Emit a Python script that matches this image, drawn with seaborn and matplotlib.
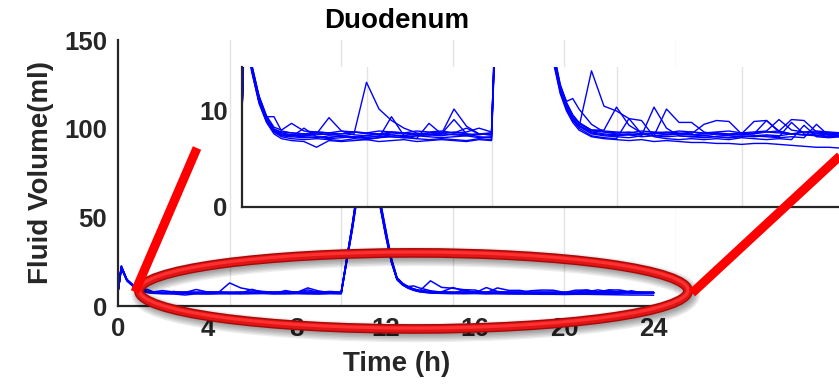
import numpy as np
import pandas as pd
import matplotlib
matplotlib.use("Agg")
import matplotlib.pyplot as plt
import seaborn as sns
from matplotlib.patches import Ellipse
from matplotlib.lines import Line2D

sns.set_style("white")
plt.rcParams["font.family"] = ["Liberation Sans", "DejaVu Sans"]
plt.rcParams["font.weight"] = "bold"

# ---------------- data (hours, ml) ----------------
time_h = [0, 0.15, 0.4, 0.7, 1.0, 1.3, 1.6, 2.0,
          2.5, 3.0, 3.5, 4.0, 4.5, 5.0, 5.5, 6.0, 6.5, 7.0, 7.5, 8.0, 8.5, 9.0, 9.5, 10.0,
          10.5, 11.0, 11.5, 12.0, 12.25, 12.5, 12.75, 13.0, 13.25, 13.5,
          14.0, 14.5, 15.0, 15.5, 16.0, 16.5, 17.0, 17.5, 18.0, 18.5, 19.0, 19.5, 20.0,
          20.5, 21.0, 21.5, 22.0, 22.5, 23.0, 23.5, 24.0]

subj1 = [8.0, 21.5, 14.4, 11.0, 9.0, 7.9, 7.5, 7.4,
         7.3, 7.2, 7.4, 7.3, 7.2, 7.4, 7.3, 7.5, 7.3, 7.4, 7.5, 7.6, 10.2, 8.4, 7.6, 7.5,
         44, 86, 73, 40, 25, 15.2, 12.1, 10.4, 9.2, 8.4,
         7.7, 7.5, 7.4, 7.5, 7.3, 7.4, 10.2, 8.8, 8.8, 7.8, 7.5, 7.4, 7.3, 7.4, 7.5, 7.4, 7.6, 7.5, 7.4, 7.5, 7.4]
subj2 = [8.1, 22.3, 14.8, 11.4, 9.3, 8.1, 7.7, 7.5,
         7.5, 7.6, 9.3, 7.9, 7.5, 7.4, 7.6, 7.5, 7.4, 7.6, 7.5, 7.4, 7.6, 7.5, 7.6, 7.5,
         45, 88, 75, 42, 26, 15.8, 12.6, 11.0, 11.3, 10.2,
         8.6, 7.8, 7.6, 7.5, 7.6, 7.4, 7.5, 7.6, 7.5, 7.4, 7.6, 7.5, 7.5, 7.6, 9.0, 7.8, 7.6, 7.5, 7.6, 7.5, 7.6]
subj3 = [7.9, 21.8, 14.6, 11.5, 9.4, 9.4, 7.9, 7.7,
         7.6, 7.7, 7.5, 7.6, 7.8, 7.6, 7.5, 7.7, 7.6, 7.5, 7.7, 7.6, 7.8, 7.6, 7.5, 7.7,
         46, 89, 74, 41, 26, 15.6, 12.5, 10.7, 9.5, 8.7,
         8.0, 8.0, 10.4, 8.5, 7.7, 7.6, 7.7, 7.6, 7.8, 7.6, 7.7, 7.6, 7.7, 7.6, 7.8, 7.7, 7.6, 7.8, 7.7, 7.6, 7.7]
subj4 = [8.0, 22.0, 14.5, 11.2, 9.1, 8.0, 7.6, 7.5,
         7.4, 7.5, 7.6, 7.4, 7.6, 13.0, 10.2, 9.0, 8.2, 7.7, 7.5, 7.6, 7.5, 7.4, 7.6, 7.5,
         45, 87, 74, 41, 25.5, 15.4, 12.3, 10.5, 9.3, 8.5,
         7.8, 7.6, 7.5, 7.6, 7.5, 7.7, 7.5, 7.6, 7.5, 7.6, 7.7, 7.5, 7.6, 8.9, 9.0, 7.9, 7.6, 7.5, 7.6, 7.7, 7.6]
subj5 = [8.2, 22.6, 15.0, 11.6, 9.5, 8.3, 8.0, 8.7,
         7.9, 7.8, 7.7, 7.9, 7.8, 7.7, 7.9, 7.8, 7.7, 7.9, 7.8, 7.9, 7.7, 7.8, 8.2, 7.8,
         46, 90, 76, 43, 27, 16.0, 12.8, 10.9, 9.6, 8.8,
         8.0, 7.9, 7.8, 7.7, 7.9, 7.8, 7.7, 7.9, 7.8, 7.7, 7.8, 7.9, 7.7, 7.8, 7.9, 9.1, 8.0, 7.8, 7.9, 7.8, 7.7]
subj6 = [7.8, 21.2, 14.2, 10.9, 8.9, 7.8, 7.4, 7.3,
         8.2, 7.3, 7.2, 7.4, 7.3, 7.2, 7.4, 7.3, 7.2, 7.4, 7.3, 7.2, 7.3, 7.4, 7.2, 7.3,
         44, 85, 72, 40, 25, 15.0, 12.0, 10.3, 9.1, 8.3,
         14.2, 10.5, 10.0, 9.2, 7.6, 7.4, 7.3, 7.4, 7.3, 7.4, 7.3, 7.2, 7.4, 7.3, 7.4, 7.3, 8.8, 7.6, 7.4, 7.3, 7.4]
subj7 = [8.0, 21.9, 14.5, 11.1, 9.0, 7.8, 7.3, 7.1,
         7.0, 7.1, 7.0, 6.9, 7.1, 7.0, 7.2, 9.4, 7.4, 7.1, 7.0, 7.1, 7.0, 6.9, 7.1, 7.0,
         44, 86, 73, 40, 25, 15.1, 12.0, 10.2, 9.0, 8.2,
         7.4, 7.2, 7.1, 9.2, 9.0, 7.3, 7.1, 7.0, 7.1, 7.0, 7.1, 7.0, 7.2, 7.1, 7.0, 7.1, 7.0, 8.5, 7.3, 7.2, 7.3]
subj8 = [7.9, 21.4, 14.3, 10.8, 8.8, 7.6, 7.1, 6.9,
         6.8, 6.2, 6.9, 6.8, 6.9, 7.0, 6.8, 6.9, 7.0, 6.8, 6.9, 7.0, 6.9, 6.8, 7.0, 6.9,
         43, 84, 72, 39, 24.5, 14.8, 11.8, 10.0, 8.8, 8.0,
         7.3, 7.1, 7.0, 6.9, 7.0, 6.8, 6.9, 6.8, 6.7, 6.7, 6.6, 6.6, 6.5, 6.6, 6.6, 6.5, 6.4, 6.3, 6.2, 6.2, 6.1]
subj9 = [8.1, 22.1, 14.7, 11.3, 9.2, 8.0, 7.5, 7.3,
         7.2, 7.3, 7.1, 7.2, 7.3, 7.1, 7.2, 7.3, 7.2, 7.1, 8.7, 7.6, 9.1, 7.6, 7.3, 7.2,
         45, 87, 74, 41, 25.5, 15.3, 12.2, 10.4, 9.2, 8.4,
         7.6, 7.4, 7.3, 7.2, 7.4, 10.4, 8.2, 7.4, 7.3, 7.2, 7.3, 7.2, 7.3, 7.4, 7.3, 7.2, 7.3, 7.2, 8.6, 7.4, 7.3]
subj10 = [8.0, 22.4, 14.9, 11.5, 9.3, 8.1, 7.8, 7.7,
          7.6, 7.8, 7.7, 7.6, 7.8, 7.7, 7.6, 7.8, 7.7, 7.6, 7.7, 7.8, 7.7, 8.2, 7.6, 7.7,
          46, 89, 75, 42, 26.5, 15.7, 12.6, 10.8, 9.5, 8.7,
          7.9, 7.8, 7.7, 7.8, 7.6, 7.7, 7.8, 7.7, 7.6, 8.6, 9.0, 8.9, 7.6, 7.7, 7.8, 7.9, 9.1, 9.0, 7.8, 7.7, 7.6]

subjects = [subj1, subj2, subj3, subj4, subj5, subj6, subj7, subj8, subj9, subj10]

x_label_pos = [0, 4, 8, 12, 16, 20, 24]
x_label_txt = ["0", "4", "8", "12", "16", "20", "24"]
x_grid_ticks = [5, 10, 15, 20, 25]
y_ticks = [0, 50, 100, 150]
inset_x_ticks = [5, 10, 15, 20]
inset_y_ticks = [0, 10]

rows = []
for i, s in enumerate(subjects):
    for t, v in zip(time_h, s):
        rows.append((f"S{i+1}", t, v))
df = pd.DataFrame(rows, columns=["subject", "time", "volume"])

DARK = "#262626"
GRID = "#e2e2e2"
BLUE = "#0000ff"

W, H = 839, 384
fig = plt.figure(figsize=(W / 100, H / 100), dpi=100)

# ---------------- main axes ----------------
ax = fig.add_axes([118 / W, (H - 306) / H, (676 - 118) / W, (306 - 40) / H])
sns.lineplot(data=df, x="time", y="volume", units="subject", estimator=None,
             color=BLUE, lw=1.1, ax=ax, legend=False)
ax.set_xlim(0, 25)
ax.set_ylim(0, 150)
ax.xaxis.remove_overlapping_locs = False
ax.set_xticks(x_grid_ticks)
ax.set_xticklabels([""] * len(x_grid_ticks))
ax.set_xticks(x_label_pos, minor=True)
ax.set_xticklabels(x_label_txt, minor=True)
ax.set_yticks(y_ticks)
ax.set_yticklabels([str(v) for v in y_ticks])
ax.tick_params(axis="x", which="major", direction="in", length=5, width=1.5, color=DARK)
ax.tick_params(axis="x", which="minor", length=0, pad=8, labelsize=18.5, labelcolor=DARK)
ax.tick_params(axis="y", which="major", direction="in", length=5, width=1.5, color=DARK,
               pad=8, labelsize=18.5, labelcolor=DARK)
ax.grid(False)
ax.grid(True, axis="x", which="major", color=GRID, lw=1.0)
for sp in ["top", "right"]:
    ax.spines[sp].set_visible(False)
for sp in ["left", "bottom"]:
    ax.spines[sp].set_color(DARK)
    ax.spines[sp].set_linewidth(1.6)
ax.set_xlabel("Time (h)", fontsize=20, fontweight="bold", color=DARK)
ax.set_ylabel("Fluid Volume(ml)", fontsize=20, fontweight="bold", color=DARK)
ax.xaxis.set_label_coords(0.5, -0.17)
ax.yaxis.set_label_coords(-0.114, 0.5)
ax.set_title("Duodenum", fontsize=20, fontweight="bold", color="black", pad=9)

# ---------------- inset axes ----------------
axi = fig.add_axes([241.5 / W, (H - 206.5) / H, 600 / W, (206.5 - 67) / H])
axi.set_facecolor("white")
sns.lineplot(data=df, x="time", y="volume", units="subject", estimator=None,
             color=BLUE, lw=1.0, ax=axi, legend=False)
axi.set_xlim(0, 24)
axi.set_ylim(0, 14.6)
axi.set_xticks(inset_x_ticks)
axi.set_xticklabels([""] * len(inset_x_ticks))
axi.set_yticks(inset_y_ticks)
axi.set_yticklabels([str(v) for v in inset_y_ticks])
axi.tick_params(axis="both", direction="in", length=5, width=1.5, color=DARK,
                pad=10, labelsize=18.5, labelcolor=DARK)
axi.grid(False)
axi.grid(True, axis="x", color=GRID, lw=1.0)
for sp in ["top", "right"]:
    axi.spines[sp].set_visible(False)
for sp in ["left", "bottom"]:
    axi.spines[sp].set_color(DARK)
    axi.spines[sp].set_linewidth(1.6)
axi.set_xlabel("")
axi.set_ylabel("")

# ---------------- red annotation (in main-axes data coordinates) ----------------
ecx, ecy, ew, eh = 13.24, 8.5, 24.6, 42.9
for k in range(6):
    fig.add_artist(Ellipse((ecx + 0.1, ecy - 2.0), ew, eh, fill=False,
                           edgecolor="black", alpha=0.07, lw=4 + 2.0 * k,
                           transform=ax.transData, clip_on=False, zorder=5))
fig.add_artist(Ellipse((ecx, ecy), ew, eh, fill=False, edgecolor="#a80808", lw=7.0,
                       transform=ax.transData, clip_on=False, zorder=6))
fig.add_artist(Ellipse((ecx, ecy), ew, eh, fill=False, edgecolor="#e01616", lw=5.0,
                       transform=ax.transData, clip_on=False, zorder=6))
fig.add_artist(Ellipse((ecx, ecy + 0.5), ew, eh, fill=False, edgecolor="#ff3030", lw=2.2,
                       transform=ax.transData, clip_on=False, zorder=6))
fig.add_artist(Line2D([0.76, 3.54], [7.9, 89.1], color="#ff0000", lw=6.5,
                      solid_capstyle="butt", transform=ax.transData, clip_on=False, zorder=7))
fig.add_artist(Line2D([25.72, 33.1], [7.3, 93.4], color="#ff0000", lw=6.5,
                      solid_capstyle="butt", transform=ax.transData, clip_on=False, zorder=7))

fig.savefig("out.png", dpi=100)
